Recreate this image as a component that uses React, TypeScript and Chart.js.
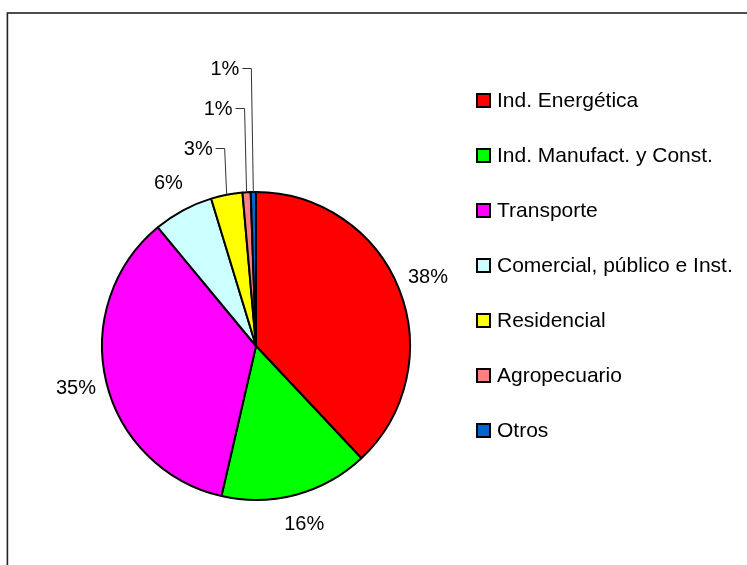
import React, { useEffect, useRef } from "react";
import { Chart, registerables } from "chart.js";

Chart.register(...registerables);

const categories = [
  "Ind. Energética",
  "Ind. Manufact. y Const.",
  "Transporte",
  "Comercial, público e Inst.",
  "Residencial",
  "Agropecuario",
  "Otros",
];
const shares = [38.0, 15.6, 35.4, 6.3, 3.3, 0.85, 0.55];
const sliceColors = ["#FF0000", "#00FF00", "#FF00FF", "#CCFFFF", "#FFFF00", "#FF8080", "#0066CC"];

const FONT = '"Liberation Sans", Arial, sans-serif';
const LABEL_PX = 20;
const LEGEND_PX = 21;

const framePlugin = {
  id: "frame",
  beforeDraw(chart: any) {
    const ctx = chart.ctx;
    ctx.save();
    ctx.fillStyle = "#fff";
    ctx.fillRect(0, 0, chart.width, chart.height);
    ctx.strokeStyle = "#222";
    ctx.lineWidth = 1.6;
    ctx.strokeRect(7.4, 13, chart.width + 20, chart.height + 20);
    ctx.restore();
  },
};

const labelPlugin = {
  id: "pctLabels",
  afterDatasetsDraw(chart: any) {
    const ctx = chart.ctx;
    const meta = chart.getDatasetMeta(0);
    const data = chart.data.datasets[0].data as number[];
    const total = data.reduce((a, b) => a + b, 0);
    ctx.save();
    ctx.font = `${LABEL_PX}px ${FONT}`;
    ctx.fillStyle = "#000";
    let k = 0;
    meta.data.forEach((arc: any, i: number) => {
      const { x, y, startAngle, endAngle, outerRadius } = arc.getProps(
        ["x", "y", "startAngle", "endAngle", "outerRadius"],
        true
      );
      const pct = (data[i] / total) * 100;
      const txt = Math.round(pct) + "%";
      const mid = (startAngle + endAngle) / 2;
      const c = Math.cos(mid);
      const s = Math.sin(mid);
      const R = outerRadius;
      if (pct >= 4) {
        ctx.textAlign = "center";
        ctx.textBaseline = "middle";
        ctx.fillText(txt, x + c * (R + 31), y + s * (R + 31));
      } else {
        const px = x + c * R;
        const py = y + s * R;
        const ly = Math.round(y - R - 44 - 40 * k);
        const ex = px - 2;
        const tx = ex - 12;
        ctx.strokeStyle = "#333";
        ctx.lineWidth = 1;
        ctx.beginPath();
        ctx.moveTo(tx + 3, ly + 0.5);
        ctx.lineTo(ex, ly + 0.5);
        ctx.lineTo(px, py);
        ctx.stroke();
        ctx.textAlign = "right";
        ctx.textBaseline = "middle";
        ctx.fillText(txt, tx, ly + 1);
        k++;
      }
    });
    ctx.restore();
  },
};

const legendPlugin = {
  id: "sideLegend",
  afterDraw(chart: any) {
    const ctx = chart.ctx;
    const labels = chart.data.labels as string[];
    const colors = chart.data.datasets[0].backgroundColor as string[];
    ctx.save();
    ctx.font = `${LEGEND_PX}px ${FONT}`;
    ctx.textAlign = "left";
    ctx.textBaseline = "middle";
    labels.forEach((lab, i) => {
      const cy = 100 + 55 * i;
      ctx.fillStyle = colors[i];
      ctx.fillRect(477, cy - 6, 13, 13);
      ctx.strokeStyle = "#000";
      ctx.lineWidth = 2;
      ctx.strokeRect(477, cy - 6, 13, 13);
      ctx.fillStyle = "#000";
      ctx.fillText(lab, 497, cy + 1);
    });
    ctx.restore();
  },
};

export default function App() {
  const ref = useRef<HTMLCanvasElement | null>(null);
  useEffect(() => {
    if (!ref.current) return;
    const chart = new Chart(ref.current, {
      type: "pie",
      data: {
        labels: categories,
        datasets: [
          {
            data: shares,
            backgroundColor: sliceColors,
            borderColor: "#000",
            borderWidth: 2,
            hoverOffset: 0,
          },
        ],
      },
      options: {
        responsive: false,
        animation: false,
        devicePixelRatio: 1,
        layout: { padding: { left: 101, right: 336, top: 191, bottom: 64 } },
        plugins: { legend: { display: false }, tooltip: { enabled: false } },
      },
      plugins: [framePlugin, labelPlugin, legendPlugin],
    } as any);
    return () => chart.destroy();
  }, []);
  return (
    <div style={{ position: "fixed", left: 0, top: 0, width: 747, height: 565, background: "#fff" }}>
      <canvas ref={ref} width={747} height={565} style={{ display: "block", width: 747, height: 565 }} />
    </div>
  );
}
